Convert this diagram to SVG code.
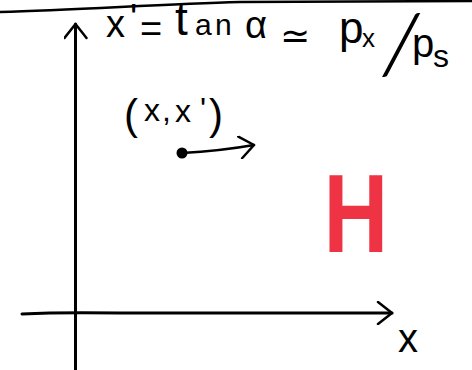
<svg xmlns="http://www.w3.org/2000/svg" width="472" height="370" viewBox="0 0 472 370">
<style>
.ln{fill:none;stroke:#000;stroke-linecap:round;stroke-linejoin:round}
.hw{font-family:"Liberation Sans",Arial,sans-serif;fill:#000}
</style>
<defs>
<marker id="chev" markerUnits="userSpaceOnUse" viewBox="0 0 24 24" markerWidth="24" markerHeight="24" refX="17" refY="12" orient="auto">
<path d="M3,1 L17,12 L3,23" fill="none" stroke="#000" stroke-width="2.5" stroke-linecap="round" stroke-linejoin="round"/>
</marker>
</defs>
<rect width="472" height="370" fill="#fff"/>
<g id="connectors">
<path class="ln" stroke-width="2.5" d="M0,12 C80,10 160,4 240,2 L472,1"/>
<path class="ln" stroke-width="3" d="M75.5,370 L75.5,24" marker-end="url(#chev)"/>
<path class="ln" stroke-width="3" d="M22,314 Q60,312 120,313 L392,313" marker-end="url(#chev)"/>
<path class="ln" stroke-width="2.5" d="M182,153 Q220,151 254,145" marker-end="url(#chev)"/>
</g>
<g id="formula">
<text class="hw" font-size="38"><tspan x="106" y="37">x</tspan><tspan x="130" y="31">'</tspan><tspan x="140" y="42">=</tspan><tspan x="175" y="35" font-size="46">t</tspan><tspan x="195" y="35" font-size="30">a</tspan><tspan x="215" y="35" font-size="30">n</tspan><tspan x="245" y="38">α</tspan><tspan x="280" y="48" font-size="36" font-family="DejaVu Sans, sans-serif">≃</tspan><tspan x="339" y="43" font-size="44">p</tspan><tspan x="362" y="47" font-size="26">x</tspan><tspan x="412" y="57" font-size="40">p</tspan><tspan x="433" y="67" font-size="32">s</tspan></text>
<text font-family="Lato, sans-serif" font-weight="300" font-size="82" transform="translate(378,74) scale(1.3,1)">/</text>
</g>
<g id="point">
<circle cx="182" cy="153" r="5.5" fill="#000"/>
<text class="hw" font-size="32"><tspan x="124" y="129" font-size="42">(</tspan><tspan x="144" y="121">x</tspan><tspan x="162" y="121">,</tspan><tspan x="175" y="122">x</tspan><tspan x="200" y="120">'</tspan><tspan x="209" y="129" font-size="42">)</tspan></text>
</g>
<g id="hamiltonian">
<text font-family="Liberation Sans, Arial, sans-serif" font-weight="bold" font-size="112" fill="#ee3344" transform="translate(323.5,252) scale(0.8,1)">H</text>
</g>
<g id="x-label">
<text class="hw" font-size="40" x="398" y="352">x</text>
</g>
</svg>
